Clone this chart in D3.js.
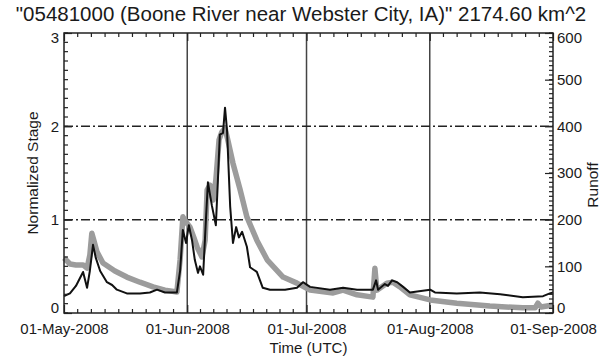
<!DOCTYPE html>
<html>
<head>
<meta charset="utf-8">
<script src="https://cdn.jsdelivr.net/npm/d3@7"></script>
<style>
    body { margin: 0; background: #fff; }
    text { font-family: "Liberation Sans", Arial, sans-serif; fill: #1a1a1a; }
</style>
</head>
<body>
<div id="chart"></div>
<script>
// days since 01-May-2008 00:00 UTC
var stageDays = [0, 1.5, 3.0, 4.8, 5.8, 6.5, 7.3, 8.0, 9.1, 10.8, 12.1, 13.3, 15.8, 19.1, 21.6, 23.4, 25.4, 28.4,
    29.2, 29.9, 30.7, 31.4, 32.2, 32.9, 33.7, 34.2, 35.0, 35.7, 36.2, 37.2, 38.2, 38.7, 39.2, 40.0, 40.5, 41.0,
    41.8, 42.5, 43.3, 44.0, 44.8, 46.0, 46.8, 48.5, 50.0, 51.8, 55.6, 58.6, 60.1, 61.9, 66.9, 70.2, 73.7, 77.7,
    78.5, 79.0, 80.7, 81.5, 82.5, 83.8, 85.3, 87.0, 92.1, 93.3, 98.8, 104.6, 109.7, 115.4, 120.5, 122.2, 123];
var stageValues = [0.18, 0.21, 0.29, 0.44, 0.27, 0.45, 0.73, 0.59, 0.45, 0.33, 0.30, 0.25, 0.21, 0.21, 0.22, 0.25, 0.22, 0.22,
    0.45, 0.89, 0.75, 0.94, 0.78, 0.57, 0.43, 0.50, 0.41, 1.00, 1.40, 1.15, 0.94, 1.41, 1.91, 1.93, 2.20, 1.96,
    1.14, 0.75, 0.92, 0.81, 0.87, 0.71, 0.49, 0.44, 0.27, 0.25, 0.25, 0.27, 0.33, 0.28, 0.25, 0.27, 0.25, 0.25,
    0.35, 0.25, 0.31, 0.29, 0.35, 0.33, 0.28, 0.22, 0.25, 0.22, 0.21, 0.22, 0.20, 0.17, 0.18, 0.21, 0.22];

var runoffDays = [0, 0.5, 1.5, 3.0, 4.8, 5.8, 6.5, 7.0, 7.5, 8.3, 9.8, 12.8, 15.8, 19.1, 22.4, 25.4, 28.4,
    29.2, 29.9, 30.7, 31.7, 32.7, 33.5, 34.7, 35.5, 36.0, 36.7, 37.5, 38.2, 39.0, 39.7, 40.5, 41.2, 42.5,
    44.3, 46.0, 48.5, 51.1, 55.1, 58.6, 61.9, 67.7, 70.2, 73.7, 77.7, 78.2, 78.7, 81.2, 82.7, 84.5, 87.0,
    92.1, 98.8, 107.1, 115.4, 118.5, 119.2, 120.0, 123];
var runoffValues = [118, 114, 105, 103, 103, 96, 124, 171, 156, 131, 107, 90, 77, 66, 56, 49, 45,
    114, 206, 195, 184, 161, 141, 120, 156, 264, 274, 242, 285, 371, 388, 396, 371, 321,
    264, 206, 156, 114, 77, 64, 49, 43, 49, 39, 34, 96, 49, 64, 66, 56, 39,
    28, 21, 15, 11, 11, 21, 13, 17];

var monthTicks = ["2008-05-01", "2008-06-01", "2008-07-01", "2008-08-01", "2008-09-01"];
var stageTicks = [0, 1, 2, 3];
var runoffTicks = [0, 100, 200, 300, 400, 500, 600];
var stageGrid = [1, 2];

var titleText = "\"05481000 (Boone River near Webster City, IA)\" 2174.60 km^2";

var start = Date.UTC(2008, 4, 1);
function toDate(d) { return new Date(start + d * 864e5); }

var margin = { top: 33, right: 48, bottom: 45, left: 64 };
var width = 601 - margin.left - margin.right;
var height = 358 - margin.top - margin.bottom;

var svg = d3.select("#chart").append("svg")
    .attr("width", 601)
    .attr("height", 358);

var g = svg.append("g")
    .attr("transform", "translate(" + margin.left + "," + margin.top + ")");

var months = monthTicks.map(function(s) { return new Date(s + "T00:00:00Z"); });

var x = d3.scaleUtc()
    .domain([months[0], months[months.length - 1]])
    .range([0, width]);
var yStage = d3.scaleLinear().domain([0, 3]).range([height, 0]);
var yRunoff = d3.scaleLinear().domain([0, 600]).range([height, 0]);

// minor ticks: 9 divisions per month
var xMinor = [];
for (var i = 0; i < months.length - 1; i++) {
    var a = months[i].getTime(), b = months[i + 1].getTime();
    for (var k = 1; k < 9; k++) xMinor.push(new Date(a + (b - a) * k / 9));
}

// grid
g.selectAll(".vgrid")
    .data(months.slice(1, -1))
    .enter().append("line")
    .attr("class", "vgrid")
    .attr("x1", function(d) { return x(d); })
    .attr("x2", function(d) { return x(d); })
    .attr("y1", 0)
    .attr("y2", height)
    .style("stroke", "#444")
    .style("stroke-width", 1.5);

g.selectAll(".hgrid")
    .data(stageGrid)
    .enter().append("line")
    .attr("class", "hgrid")
    .attr("x1", 0)
    .attr("x2", width)
    .attr("y1", function(d) { return yStage(d); })
    .attr("y2", function(d) { return yStage(d); })
    .style("stroke", "#222")
    .style("stroke-width", 1.5)
    .style("stroke-dasharray", "9,3,2,3");

// series
var runoffLine = d3.line()
    .x(function(d, i) { return x(toDate(runoffDays[i])); })
    .y(function(d) { return yRunoff(d); });
var stageLine = d3.line()
    .x(function(d, i) { return x(toDate(stageDays[i])); })
    .y(function(d) { return yStage(d); });

g.append("path")
    .datum(runoffValues)
    .attr("d", runoffLine)
    .style("fill", "none")
    .style("stroke", "#9c9c9c")
    .style("stroke-width", 5.5)
    .style("stroke-linejoin", "round");

g.append("path")
    .datum(stageValues)
    .attr("d", stageLine)
    .style("fill", "none")
    .style("stroke", "#111")
    .style("stroke-width", 2)
    .style("stroke-linejoin", "round");

// frame
g.append("rect")
    .attr("width", width)
    .attr("height", height)
    .style("fill", "none")
    .style("stroke", "#222")
    .style("stroke-width", 1.5);

// axes with inward ticks
var fs = "15px";

var xAxis = d3.axisBottom(x).tickValues(months).tickSize(-8).tickPadding(10)
    .tickFormat(d3.utcFormat("%d-%b-%Y"));
var gx = g.append("g").attr("transform", "translate(0," + height + ")").call(xAxis);
gx.append("g").selectAll("line").data(xMinor).enter().append("line")
    .attr("x1", function(d) { return x(d); }).attr("x2", function(d) { return x(d); })
    .attr("y1", 0).attr("y2", -4);

var xTop = d3.axisTop(x).tickValues(months).tickSize(-8).tickFormat("");
var gxt = g.append("g").call(xTop);
gxt.append("g").selectAll("line").data(xMinor).enter().append("line")
    .attr("x1", function(d) { return x(d); }).attr("x2", function(d) { return x(d); })
    .attr("y1", 0).attr("y2", 4);

var yAxisL = d3.axisLeft(yStage).tickValues(stageTicks).tickSize(-8).tickPadding(5)
    .tickFormat(d3.format("d"));
var gyl = g.append("g").call(yAxisL);
gyl.append("g").selectAll("line").data(d3.range(0, 3.001, 0.1)).enter().append("line")
    .attr("x1", 0).attr("x2", 4)
    .attr("y1", function(d) { return yStage(d); }).attr("y2", function(d) { return yStage(d); });

var yAxisR = d3.axisRight(yRunoff).tickValues(runoffTicks).tickSize(-8).tickPadding(4)
    .tickFormat(d3.format("d"));
var gyr = g.append("g").attr("transform", "translate(" + width + ",0)").call(yAxisR);
gyr.append("g").selectAll("line").data(d3.range(0, 601, 10)).enter().append("line")
    .attr("x1", 0).attr("x2", -4)
    .attr("y1", function(d) { return yRunoff(d); }).attr("y2", function(d) { return yRunoff(d); });

[gx, gxt, gyl, gyr].forEach(function(ax) {
    ax.select(".domain").remove();
    ax.selectAll("line").style("stroke", "#222").style("stroke-width", 1.2);
    ax.selectAll("text").style("font-size", fs).style("fill", "#1a1a1a");
});

// end labels sit a little inside the frame
[[gyl, stageTicks], [gyr, runoffTicks]].forEach(function(p) {
    var last = p[1].length - 1;
    p[0].selectAll(".tick text").attr("dy", function(d, i) {
        return i === 0 ? "-0.02em" : (i === last ? "0.6em" : "0.32em");
    });
});

// titles
svg.append("text")
    .attr("x", 301)
    .attr("y", 21)
    .attr("text-anchor", "middle")
    .style("font-size", "20.5px")
    .text(titleText);

svg.append("text")
    .attr("x", margin.left + width / 2)
    .attr("y", 353)
    .attr("text-anchor", "middle")
    .style("font-size", fs)
    .text("Time (UTC)");

svg.append("text")
    .attr("transform", "translate(38," + (margin.top + height / 2) + ") rotate(-90)")
    .attr("text-anchor", "middle")
    .style("font-size", "15.5px")
    .text("Normalized Stage");

svg.append("text")
    .attr("transform", "translate(598," + (margin.top + height / 2 + 12) + ") rotate(-90)")
    .attr("text-anchor", "middle")
    .style("font-size", "15.5px")
    .text("Runoff");
</script>
</body>
</html>
